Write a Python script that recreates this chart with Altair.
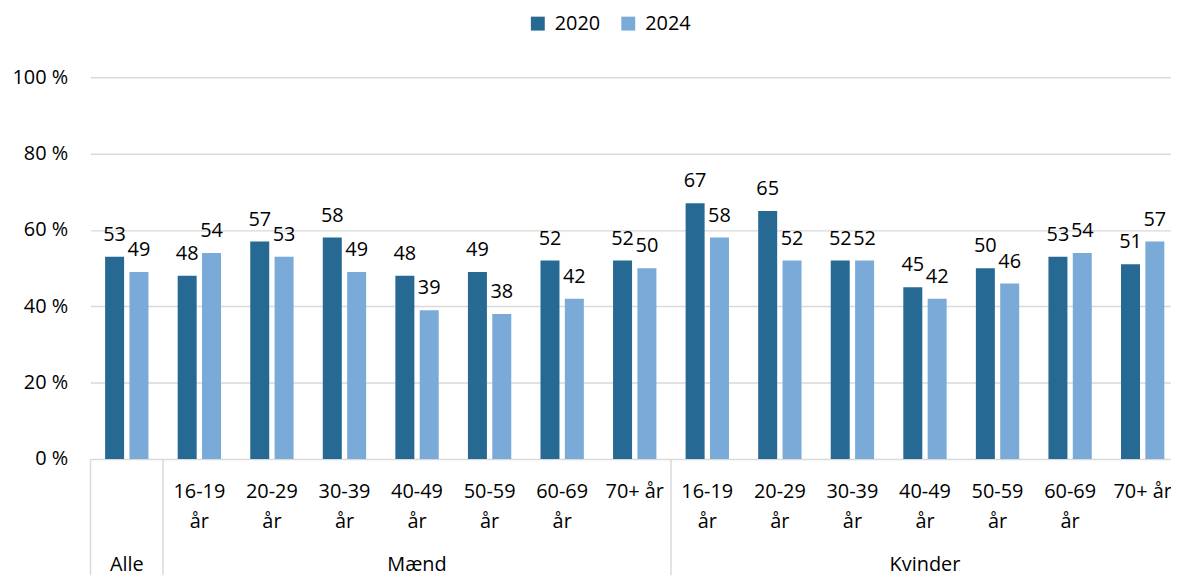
import altair as alt
import pandas as pd

# ---- data ----
keys = [f"c{i}" for i in range(15)]
age_labels = ["", "16-19\når", "20-29\når", "30-39\når", "40-49\når", "50-59\når",
              "60-69\når", "70+ år", "16-19\når", "20-29\når", "30-39\når",
              "40-49\når", "50-59\når", "60-69\når", "70+ år"]
years = ["2020", "2024"]
v2020 = [53, 48, 57, 58, 48, 49, 52, 52, 67, 65, 52, 45, 50, 53, 51]
v2024 = [49, 54, 53, 49, 39, 38, 42, 50, 58, 52, 52, 42, 46, 54, 57]
groups = ["Alle", "Mænd", "Kvinder"]
group_center_keys = ["c0", "c4", "c11"]
separator_keys = ["c0", "c1", "c8"]
y_ticks = [0, 20, 40, 60, 80, 100]
colors = ["#266A94", "#7AAAD8"]

FONT = "Open Sans"
FS = 20
TXT = "#000000"
GRID = "#D9D9D9"

rows = []
for k, a, b in zip(keys, v2020, v2024):
    rows.append({"key": k, "year": years[0], "value": a, "label": str(a)})
    rows.append({"key": k, "year": years[1], "value": b, "label": str(b)})
bars_df = pd.DataFrame(rows)
cat_df = pd.DataFrame({"key": keys, "txt": age_labels})
grp_df = pd.DataFrame({"key": group_center_keys, "txt": groups})
sep_df = pd.DataFrame({"key": separator_keys})

xscale = alt.Scale(domain=keys, paddingInner=0, paddingOuter=0)
x_enc = alt.X("key:N", scale=xscale, axis=None, sort=keys)
yscale = alt.Scale(domain=[0, 100], nice=False)
xoff = alt.XOffset("year:N", scale=alt.Scale(paddingInner=0.22, paddingOuter=0.6))

bars = alt.Chart(bars_df).mark_bar().encode(
    x=x_enc,
    xOffset=xoff,
    y=alt.Y("value:Q", scale=yscale,
            axis=alt.Axis(values=y_ticks, labelExpr="datum.value + ' %'", ticks=False,
                          domain=False, gridColor=GRID, gridWidth=1.5, labelPadding=23,
                          labelFontSize=FS, labelFont=FONT, labelColor=TXT, title=None)),
    color=alt.Color("year:N", scale=alt.Scale(domain=years, range=colors),
                    legend=alt.Legend(title=None, orient="none", legendX=440, legendY=-64,
                                      direction="horizontal", symbolType="square",
                                      symbolSize=196, symbolStrokeWidth=0,
                                      labelFontSize=FS, labelFont=FONT, labelColor=TXT,
                                      labelOffset=7, columnPadding=18)),
)

values = alt.Chart(bars_df).mark_text(
    baseline="alphabetic", dy=-16, fontSize=FS, font=FONT, color=TXT
).encode(
    x=x_enc,
    xOffset=xoff,
    y=alt.Y("value:Q", scale=yscale),
    text="label:N",
)

cat_labels = alt.Chart(cat_df).mark_text(
    baseline="alphabetic", lineBreak="\n", lineHeight=30, fontSize=FS, font=FONT, color=TXT
).encode(x=x_enc, y=alt.value(423), text="txt:N")

grp_labels = alt.Chart(grp_df).mark_text(
    baseline="alphabetic", fontSize=FS, font=FONT, color=TXT
).encode(x=x_enc, y=alt.value(497), text="txt:N")

seps = alt.Chart(sep_df).mark_rule(color=GRID, strokeWidth=1.5).encode(
    x=alt.X("key:N", scale=xscale, axis=None, sort=keys, bandPosition=0),
    y=alt.value(384), y2=alt.value(501),
)

chart = alt.layer(bars, values, cat_labels, grp_labels, seps).properties(
    width=1095, height=384,
    padding={"left": 83, "top": 68, "right": -8, "bottom": 117},
    autosize=alt.AutoSizeParams(type="none"),
    background="white",
).configure_view(stroke=None)

chart.save("out.html", embed_options={"renderer": "svg", "actions": False})
